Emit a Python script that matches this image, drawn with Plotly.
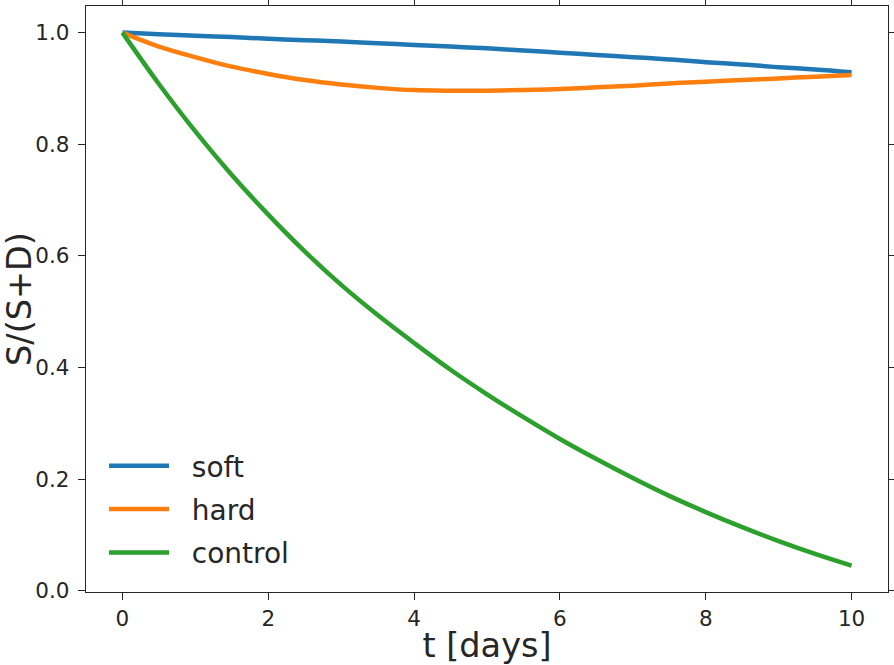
import plotly.graph_objects as go

# time points [days]
t = [0, 0.5, 1, 1.5, 2, 2.5, 3, 3.5, 4, 4.5, 5, 5.5, 6, 6.5, 7, 7.5, 8, 8.5, 9, 9.5, 10]

soft = [1.0, 0.997, 0.9945, 0.992, 0.989, 0.9865, 0.984, 0.981, 0.978, 0.975, 0.972,
        0.968, 0.964, 0.960, 0.956, 0.952, 0.947, 0.943, 0.938, 0.934, 0.929]
hard = [1.0, 0.975, 0.956, 0.939, 0.926, 0.915, 0.907, 0.901, 0.897, 0.896, 0.896,
        0.897, 0.899, 0.902, 0.905, 0.909, 0.912, 0.915, 0.918, 0.921, 0.924]
control = [1.0, 0.908, 0.823, 0.745, 0.674, 0.608, 0.548, 0.494, 0.444, 0.396, 0.352,
           0.311, 0.272, 0.236, 0.202, 0.170, 0.141, 0.114, 0.089, 0.066, 0.045]

series_names = ["soft", "hard", "control"]
series_values = [soft, hard, control]
colors = ["#1f77b4", "#ff7f0e", "#2ca02c"]

x_ticks = [0, 2, 4, 6, 8, 10]
y_ticks = [0.0, 0.2, 0.4, 0.6, 0.8, 1.0]

FONT = "DejaVu Sans"
INK = "#262626"
GAP = "\u00a0\u00a0"  # visual gap between legend line and label

fig = go.Figure()
for name, vals, col in zip(series_names, series_values, colors):
    fig.add_trace(go.Scatter(x=t, y=vals, mode="lines", name=GAP + name, legendgroup=name,
                             line=dict(color=col, width=4.5, shape="spline", smoothing=1.0)))

axis_common = dict(showline=True, linecolor=INK, linewidth=1.3, mirror="ticks",
                   ticks="outside", ticklen=7, tickwidth=1.3, tickcolor=INK,
                   showgrid=False, zeroline=False,
                   tickfont=dict(family=FONT, size=21.5, color=INK))

fig.update_xaxes(range=[-0.5, 10.5], tickvals=x_ticks, ticktext=[str(v) for v in x_ticks],
                 title=dict(text="t [days]", font=dict(family=FONT, size=33.5, color=INK), standoff=3),
                 **axis_common)
fig.update_yaxes(range=[-0.0022, 1.0477], tickvals=y_ticks, ticktext=[f"{v:.1f}" for v in y_ticks],
                 ticklabelstandoff=4,
                 title=dict(text="S/(S+D)", font=dict(family=FONT, size=33.5, color=INK), standoff=0),
                 **axis_common)

fig.update_layout(
    width=894, height=665,
    margin=dict(l=86, r=6, t=6, b=73, autoexpand=False),
    paper_bgcolor="white", plot_bgcolor="white",
    showlegend=True,
    legend=dict(x=0.0225, y=0.024, xanchor="left", yanchor="bottom",
                bgcolor="rgba(255,255,255,0)", borderwidth=0,
                font=dict(family=FONT, size=28, color=INK),
                itemwidth=60, tracegroupgap=4),
    font=dict(family=FONT, color=INK),
)

fig.write_html("out.html", config={"displayModeBar": False},
               post_script="document.body.style.margin='0';document.body.style.padding='0';")
